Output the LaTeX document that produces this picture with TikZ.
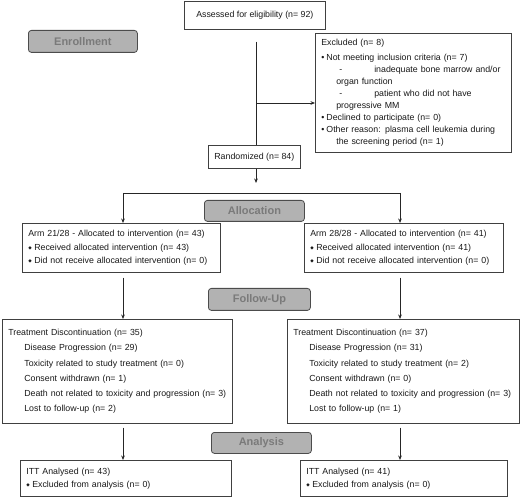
\documentclass[tikz,border=0pt]{standalone}
\usepackage{fontspec}
\setmainfont{Liberation Sans}
\newfontfamily\dejavu{DejaVu Sans}
\usetikzlibrary{arrows.meta}
\newcommand{\dmd}{\raisebox{0.6pt}{\dejavu\fontsize{4.5}{4.5}\selectfont ◆}\hspace{2.5pt}}
\newcommand{\bul}{\textbullet\hspace{2pt}}
\begin{document}
\begin{tikzpicture}[x=1pt,y=-1pt,
  box/.style={draw=black!75, line width=0.7pt, fill=white, anchor=north west, align=left,
    inner xsep=6pt, inner ysep=0pt, font=\fontsize{8.8}{13}\selectfont, text=black!90},
  hdr/.style={draw=black!70, line width=0.8pt, fill=black!30, rounded corners=3pt, anchor=north west,
    font=\fontsize{11}{13}\selectfont\bfseries, text=black!52, inner sep=0pt},
  arr/.style={-{Stealth[length=4.5pt,width=3.6pt]}, line width=0.7pt, draw=black!85},
  ln/.style={line width=0.7pt, draw=black!85}]
\useasboundingbox (0,0) rectangle (520,497);

% column coordinates
\coordinate (cL) at (123,0);
\coordinate (cR) at (400,0);
\coordinate (tr) at (256,0);

% headers
\node[hdr, minimum width=109pt, minimum height=22pt] (enroll) at (28,30) {Enrollment};
\node[hdr, minimum width=100pt, minimum height=21pt] (alloc) at (204,200) {Allocation};
\node[hdr, minimum width=102pt, minimum height=22pt] (follow) at (208,288) {Follow-Up};
\node[hdr, minimum width=100pt, minimum height=21pt] (analysis) at (211,432) {Analysis};

% boxes
\node[box, align=center, minimum width=141pt, minimum height=28pt] (assess) at (184,1)
  {Assessed for eligibility (n= 92)};

\node[box, text width=184pt, minimum height=119pt, font=\fontsize{8.8}{12}\selectfont] (excl) at (315,33)
  {Excluded (n= 8)\\[3pt]
   \bul Not meeting inclusion criteria (n= 7)\\
   \hspace*{18pt}-\hspace{32pt}inadequate bone marrow and/or\\
   \hspace*{15pt}organ function\\
   \hspace*{18pt}-\hspace{32pt}patient who did not have\\
   \hspace*{15pt}progressive MM\\
   \bul Declined to participate (n= 0)\\
   \bul Other reason: plasma cell leukemia during\\
   \hspace*{15pt}the screening period (n= 1)};

\node[box, align=center, minimum width=92pt, minimum height=23pt] (rand) at (208,145)
  {Randomized (n= 84)};

\node[box, text width=186pt, minimum height=49pt, font=\fontsize{8.8}{13.3}\selectfont] (armL) at (22,223)
  {Arm 21/28 - Allocated to intervention (n= 43)\\
   \dmd Received allocated intervention (n= 43)\\
   \dmd Did not receive allocated intervention (n= 0)};

\node[box, text width=187pt, minimum height=49pt, font=\fontsize{8.8}{13.3}\selectfont] (armR) at (304,223)
  {Arm 28/28 - Allocated to intervention (n= 41)\\
   \dmd Received allocated intervention (n= 41)\\
   \dmd Did not receive allocated intervention (n= 0)};

\node[box, text width=218pt, minimum height=104pt, font=\fontsize{8.8}{15.2}\selectfont] (treatL) at (2,319)
  {Treatment Discontinuation (n= 35)\\
   \hspace*{16pt}Disease Progression (n= 29)\\
   \hspace*{16pt}Toxicity related to study treatment (n= 0)\\
   \hspace*{16pt}Consent withdrawn (n= 1)\\
   \hspace*{16pt}Death not related to toxicity and progression (n= 3)\\
   \hspace*{16pt}Lost to follow-up (n= 2)};

\node[box, text width=220pt, minimum height=104pt, font=\fontsize{8.8}{15.2}\selectfont] (treatR) at (287,319)
  {Treatment Discontinuation (n= 37)\\
   \hspace*{16pt}Disease Progression (n= 31)\\
   \hspace*{16pt}Toxicity related to study treatment (n= 2)\\
   \hspace*{16pt}Consent withdrawn (n= 0)\\
   \hspace*{16pt}Death not related to toxicity and progression (n= 3)\\
   \hspace*{16pt}Lost to follow-up (n= 1)};

\node[box, text width=199pt, minimum height=36pt] (ittL) at (20,460)
  {ITT Analysed (n= 43)\\
   \dmd Excluded from analysis (n= 0)};

\node[box, text width=195pt, minimum height=36pt] (ittR) at (300,460)
  {ITT Analysed (n= 41)\\
   \dmd Excluded from analysis (n= 0)};

% connectors
\coordinate (ej) at (256,103);
\coordinate (ra) at (256,183);
\coordinate (sp) at (0,193);
\draw[ln] ([yshift=-12pt]assess.south -| tr) -- (rand.north -| tr);
\draw[arr] (ej) -- (ej -| excl.west);
\draw[arr] (rand.south -| tr) -- (ra);
\draw[ln] (sp -| cL) -- (sp -| cR);
\draw[arr] (sp -| cL) -- (armL.north -| cL);
\draw[arr] (sp -| cR) -- (armR.north -| cR);
\draw[arr] ([yshift=-5pt]armL.south -| cL) -- (treatL.north -| cL);
\draw[arr] ([yshift=-5pt]armR.south -| cR) -- (treatR.north -| cR);
\draw[arr] ([yshift=-4pt]treatL.south -| cL) -- (ittL.north -| cL);
\draw[arr] ([yshift=-4pt]treatR.south -| cR) -- (ittR.north -| cR);
\end{tikzpicture}
\end{document}
